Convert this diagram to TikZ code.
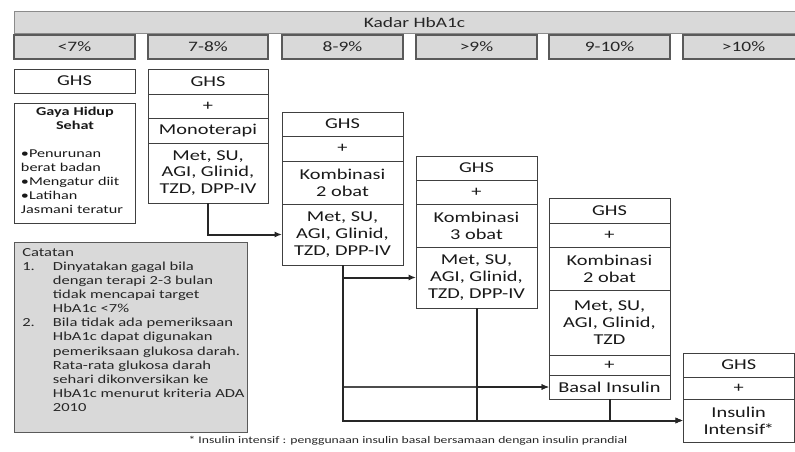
\documentclass[tikz,border=0pt]{standalone}
\usepackage{fontspec}
\setmainfont{Carlito}[FakeStretch=1.35]
\usetikzlibrary{arrows.meta}
\definecolor{hdr}{HTML}{D9D9D9}
\definecolor{bord}{HTML}{404040}
\definecolor{rbord}{HTML}{5A5A5A}
\definecolor{lin}{HTML}{262626}
\newcommand\cellbox[6]{\node[cell, minimum width={(#3)*0.75pt}, minimum height={(#5-#4)*0.75pt}] (#1) at (#2,#4) {#6};}
\newcommand\rngbox[4]{\node[rng, minimum width={(#3)*0.75pt}] (#1) at (#2,35) {#4};}
\begin{document}
\begin{tikzpicture}[x=0.75pt,y=-0.75pt,
  cell/.style={draw=bord, line width=0.6pt, fill=white, inner sep=1pt, outer sep=0pt,
    align=center, anchor=north west, text=black!90,
    font=\fontsize{11.3pt}{12.6pt}\selectfont},
  rng/.style={draw=rbord, line width=0.9pt, fill=hdr, inner sep=0pt, outer sep=0pt,
    anchor=north west, minimum height=24*0.75pt, text=black!85,
    font=\fontsize{10.8pt}{12pt}\selectfont},
  conn/.style={draw=lin, line width=1.5pt, -{Latex[length=5.5pt,width=4.5pt]}},
  thinconn/.style={draw=black!70, line width=0.9pt, -{Latex[length=5.5pt,width=4.5pt]}}]
\clip (0,0) rectangle (795,451);
\useasboundingbox (0,0) rectangle (795,451);
% header
\node[fill=hdr, draw=rbord!70, line width=0.7pt, anchor=north west, minimum width=800*0.75pt,
  minimum height=22*0.75pt, inner sep=0pt, font=\fontsize{10.8pt}{12pt}\selectfont, text=black!85]
  (kadar) at (14,11) {Kadar HbA1c};
% range boxes
\rngbox{r1}{14}{121}{<7\%}
\rngbox{r2}{148}{120}{7-8\%}
\rngbox{r3}{282}{121}{8-9\%}
\rngbox{r4}{416}{121}{>9\%}
\rngbox{r5}{549}{121}{9-10\%}
\rngbox{r6}{683}{121}{>10\%}
% column 1
\cellbox{b1a}{14}{121}{69}{93}{GHS}
\node[draw=bord, line width=0.6pt, anchor=north west, minimum width=121*0.75pt,
  minimum height=120*0.75pt, inner sep=0pt] (gaya) at (14,103) {};
\node[anchor=north, text width=81pt, align=left, inner sep=0pt,
  font=\fontsize{9pt}{10.5pt}\selectfont, text=black!90] (gayatxt) at (75,107)
  {{\centering\bfseries Gaya Hidup\\Sehat\par}\vspace{10.5pt}%
   •Penurunan\\berat badan\\•Mengatur diit\\•Latihan\\Jasmani teratur};
% column 2
\cellbox{b2a}{148}{120}{69}{94}{GHS}
\cellbox{b2b}{148}{120}{94}{118}{+}
\cellbox{b2c}{148}{120}{118}{143}{Monoterapi}
\cellbox{b2d}{148}{120}{143}{203}{Met, SU,\\AGI, Glinid,\\TZD, DPP-IV}
% column 3
\cellbox{b3a}{282}{121}{112}{136}{GHS}
\cellbox{b3b}{282}{121}{136}{161}{+}
\cellbox{b3c}{282}{121}{161}{204}{Kombinasi\\2 obat}
\cellbox{b3d}{282}{121}{204}{265}{Met, SU,\\AGI, Glinid,\\TZD, DPP-IV}
% column 4
\cellbox{b4a}{416}{121}{156}{180}{GHS}
\cellbox{b4b}{416}{121}{180}{204}{+}
\cellbox{b4c}{416}{121}{204}{247}{Kombinasi\\3 obat}
\cellbox{b4d}{416}{121}{247}{308}{Met, SU,\\AGI, Glinid,\\TZD, DPP-IV}
% column 5
\cellbox{b5a}{549}{121}{198}{223}{GHS}
\cellbox{b5b}{549}{121}{223}{247}{+}
\cellbox{b5c}{549}{121}{247}{290}{Kombinasi\\2 obat}
\cellbox{b5d}{549}{121}{290}{355}{Met, SU,\\AGI, Glinid,\\TZD}
\cellbox{b5e}{549}{121}{355}{375}{+}
\cellbox{b5g}{549}{121}{375}{399}{Basal Insulin}
% column 6
\cellbox{b6a}{683}{111.4}{353}{377}{GHS}
\cellbox{b6b}{683}{111.4}{377}{399}{+}
\cellbox{b6c}{683}{111.4}{399}{442}{Insulin\\Intensif\kern-1.2pt*}
% catatan
\node[fill=hdr, draw=rbord, line width=0.8pt, anchor=north west, minimum width=233*0.75pt,
  minimum height=190*0.75pt, inner sep=0pt] (catatan) at (14,242) {};
\node[anchor=north west, inner sep=0pt, align=left, text=black!85,
  font=\fontsize{9.2pt}{10.6pt}\selectfont] (cattxt) at (22,246)
  {\begin{tabular}{@{}p{23pt}@{}l@{}}
   \multicolumn{2}{@{}l}{Catatan}\\
   1. & Dinyatakan gagal bila\\
      & dengan terapi 2-3 bulan\\
      & tidak mencapai target\\
      & HbA1c <7\%\\
   2. & Bila tidak ada pemeriksaan\\
      & HbA1c dapat digunakan\\
      & pemeriksaan glukosa darah.\\
      & Rata-rata glukosa darah\\
      & sehari dikonversikan ke\\
      & HbA1c menurut kriteria ADA\\
      & 2010
   \end{tabular}};
% footnote
\node[inner sep=0pt, text=black!85, font=\fontsize{7.6pt}{8.5pt}\selectfont] (foot) at (408,441)
  {* Insulin intensif : penggunaan insulin basal bersamaan dengan insulin prandial};
% connectors
\draw[conn] (b2d.south) |- (b3d.west);
\draw[conn] (b3d.south) |- (b4d.west);
\draw[thinconn] (b3d.south) |- (b5g.west);
\draw[conn] (b4d.south |- b5g.west) -- (b5g.west);
\draw[conn] (b3d.south) |- (b6c.west);
\draw[conn] (b4d.south) |- (b6c.west);
\draw[conn] (b5g.south) |- (b6c.west);
\end{tikzpicture}
\end{document}
